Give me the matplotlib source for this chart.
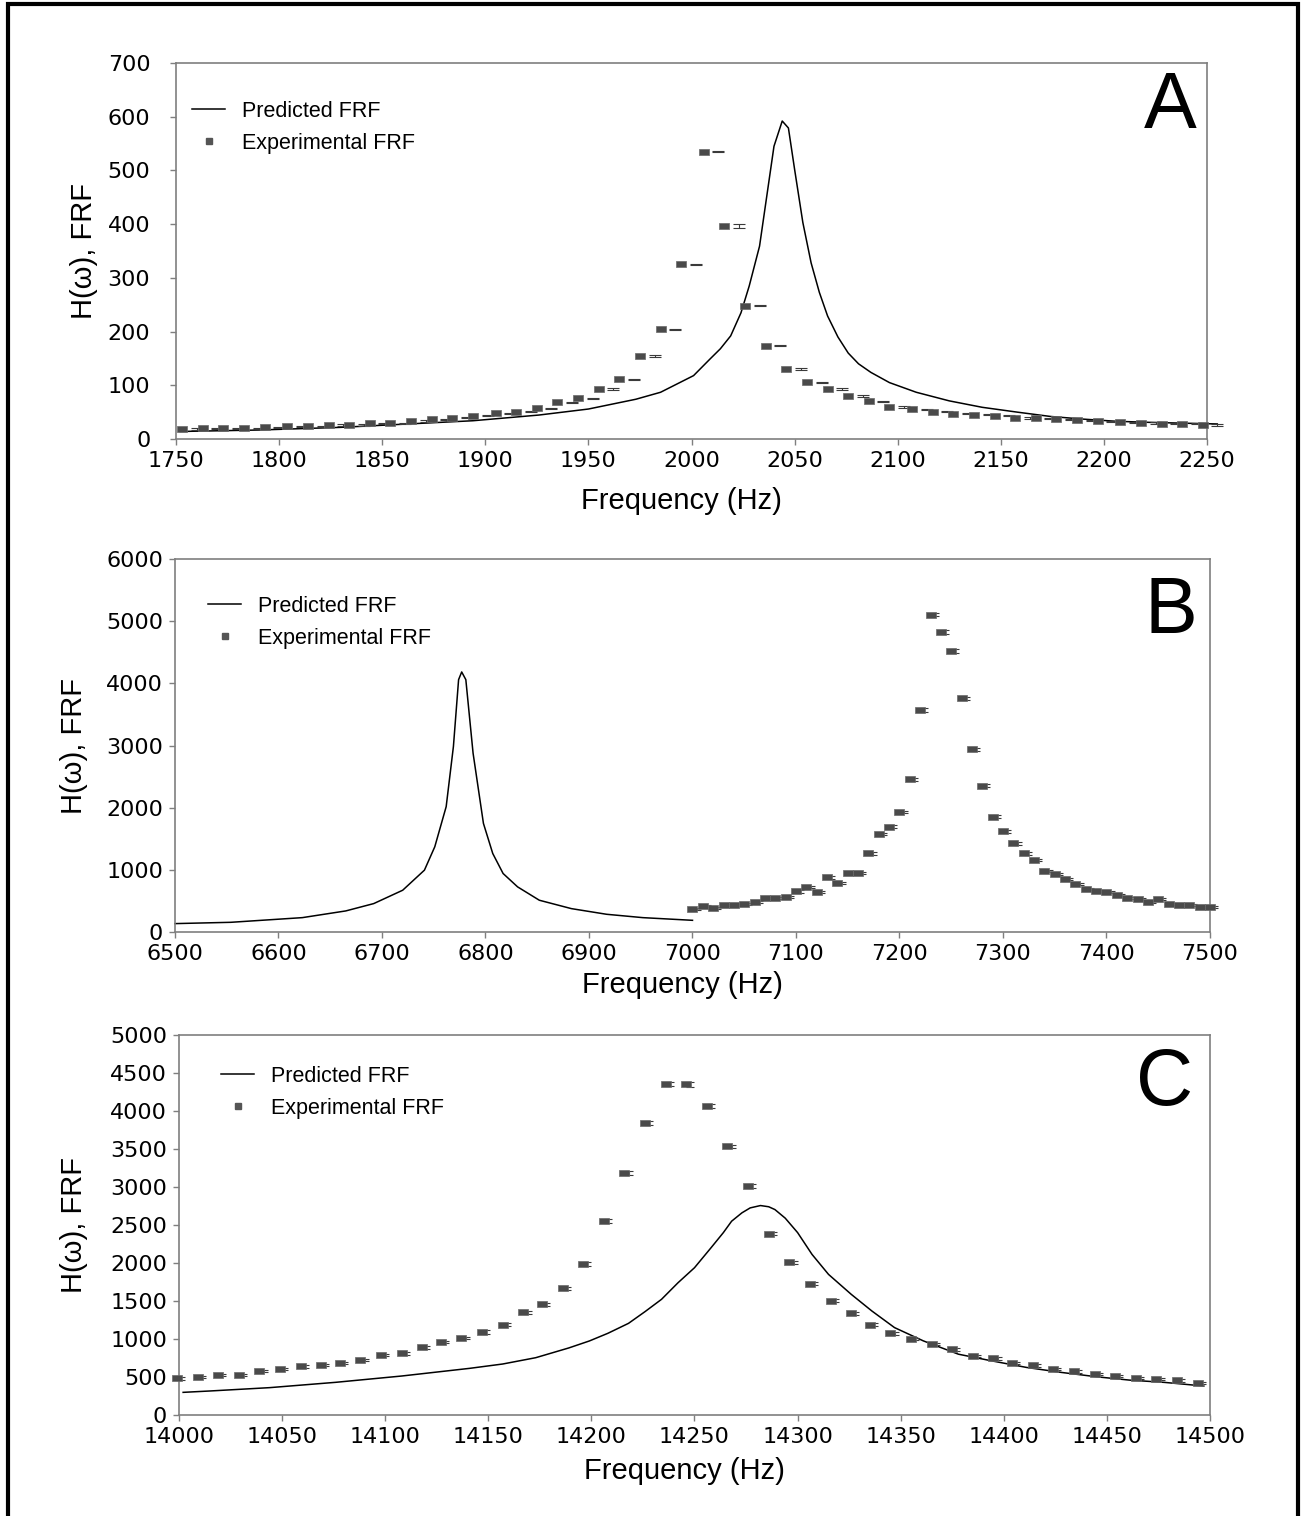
"""Predicted vs experimental FRF for three resonance modes (A, B, C)."""

import matplotlib
matplotlib.use("Agg")
import matplotlib.pyplot as plt
from matplotlib.lines import Line2D
from matplotlib.patches import Rectangle
from matplotlib.path import Path
from matplotlib.transforms import offset_copy

# ---------- Panel A data ----------
a_pred_hz = [1752, 1790, 1830, 1862, 1894, 1926, 1950, 1973, 1985, 2001,
             2009, 2014, 2019, 2024, 2028, 2033, 2036.5, 2040, 2044, 2047,
             2050, 2054, 2058, 2062, 2066, 2071, 2076, 2081, 2087, 2096,
             2109, 2125, 2141, 2158, 2174, 2190, 2206, 2222, 2238, 2255]
a_pred = [14, 16.7, 21.7, 27.9, 34, 44.6, 55.8, 74, 87, 118,
          149, 168, 192, 235, 285, 359, 452, 545, 592, 579,
          502, 403, 328, 273, 229, 190, 160, 140, 124, 105,
          87, 71, 59, 50, 42, 37, 33, 31, 29.5, 28]
a_exp_hz = [1753, 1763, 1773, 1783, 1793, 1804, 1814, 1824, 1834, 1844,
            1854, 1864, 1874, 1884, 1894, 1905, 1915, 1925, 1935, 1945,
            1955, 1965, 1975, 1985, 1995, 2006, 2016, 2026, 2036, 2046,
            2056, 2066, 2076, 2086, 2096, 2107, 2117, 2127, 2137, 2147,
            2157, 2167, 2177, 2187, 2197, 2208, 2218, 2228, 2238, 2248]
a_exp = [18.6, 19.8, 19.8, 19.8, 21.7, 23.5, 23.5, 26, 26, 29,
         29.7, 33.5, 37, 40, 43.4, 48, 51, 57, 68, 76,
         93, 111.5, 155, 204.5, 325, 535, 396.5, 248, 173.5, 130,
         105.3, 93, 79.5, 70, 60, 55, 51, 47, 45, 43,
         38.5, 39, 36.4, 34.7, 33, 31, 30.3, 28.5, 28.5, 26]
a_err = [1, 1, 1, 1, 1, 1, 1, 1, 1, 1,
         1, 1, 1, 1, 1, 1, 1, 1, 1.5, 1,
         1.5, 1, 2, 1, 1, 1, 3, 1, 1, 2,
         1, 2.5, 2, 1, 2, 1, 1, 1, 1, 1,
         2, 1, 1, 1, 1, 1, 2, 1, 1, 1]

# ---------- Panel B data ----------
b_pred_hz = [6500, 6554, 6623, 6665, 6692, 6720, 6741, 6751, 6762, 6769,
             6774, 6777, 6781, 6788, 6798, 6807, 6817, 6831, 6852, 6883,
             6917, 6952, 7000]
b_pred = [135, 156, 231, 339, 457, 672, 995, 1371, 2016, 2984,
          4059, 4183, 4059, 2876, 1747, 1263, 941, 726, 511, 376,
          285, 231, 188]
b_exp_hz = [7000, 7010, 7020, 7030, 7040, 7050, 7060, 7070, 7080, 7090,
            7100, 7110, 7120, 7130, 7140, 7150, 7160, 7170, 7180, 7190,
            7200, 7210, 7220, 7230, 7240, 7250, 7260, 7270, 7280, 7290,
            7300, 7310, 7320, 7330, 7340, 7350, 7360, 7370, 7380, 7390,
            7400, 7410, 7420, 7430, 7440, 7450, 7460, 7470, 7480, 7490,
            7500]
b_exp = [375, 413, 391, 429, 429, 450, 488, 547, 547, 563,
         654, 729, 638, 879, 782, 949, 949, 1265, 1576, 1693,
         1929, 2460, 3574, 5107, 4828, 4518, 3762, 2942, 2353, 1854,
         1618, 1426, 1265, 1152, 986, 932, 857, 766, 691, 654,
         638, 600, 547, 525, 488, 525, 450, 434, 434, 397,
         397]
b_err = [15, 15, 15, 15, 15, 15, 15, 15, 15, 15,
         20, 15, 15, 20, 15, 20, 20, 20, 20, 25,
         20, 25, 30, 30, 30, 30, 25, 25, 20, 20,
         20, 20, 20, 15, 15, 20, 15, 15, 15, 15,
         15, 15, 15, 15, 15, 15, 15, 15, 15, 15,
         15]

# ---------- Panel C data ----------
c_pred_hz = [14002, 14015, 14044, 14076, 14108, 14141, 14157, 14173, 14189, 14199,
             14208, 14218, 14226, 14234, 14242, 14250, 14258, 14264, 14268, 14273,
             14277, 14282, 14286, 14289, 14294, 14300, 14307, 14315, 14326, 14336,
             14347, 14361, 14378, 14394, 14411, 14428, 14445, 14461, 14478, 14497]
c_pred = [298, 316, 360, 430, 513, 614, 671, 754, 882, 974,
          1075, 1206, 1360, 1522, 1740, 1938, 2200, 2400, 2550, 2660,
          2725, 2756, 2740, 2703, 2590, 2400, 2113, 1850, 1588, 1369,
          1150, 975, 800, 713, 626, 560, 503, 459, 429, 381]
c_exp_hz = [13999, 14009, 14019, 14029, 14039, 14049, 14059, 14069, 14078, 14088,
            14098, 14108, 14118, 14127, 14137, 14147, 14157, 14167, 14176, 14186,
            14196, 14206, 14216, 14226, 14236, 14246, 14256, 14266, 14276, 14286,
            14296, 14306, 14316, 14326, 14335, 14345, 14355, 14365, 14375, 14385,
            14395, 14404, 14414, 14424, 14434, 14444, 14454, 14464, 14474, 14484,
            14494]
c_exp = [482, 500, 531, 531, 575, 605, 640, 662, 680, 724,
         785, 811, 890, 965, 1013, 1092, 1189, 1355, 1456, 1667,
         1987, 2553, 3184, 3842, 4355, 4350, 4068, 3535, 3018, 2388,
         2012, 1728, 1505, 1339, 1190, 1076, 997, 932, 862, 774,
         744, 682, 652, 608, 573, 542, 516, 490, 472, 455,
         424]
c_err = [15, 15, 15, 15, 15, 15, 15, 15, 15, 15,
         15, 15, 20, 15, 15, 20, 15, 20, 20, 20,
         20, 25, 25, 30, 30, 30, 25, 20, 25, 25,
         20, 20, 20, 20, 15, 20, 15, 15, 15, 15,
         15, 15, 15, 15, 15, 15, 15, 15, 15, 15,
         15]

# ---------- Styling ----------
W, H = 1306, 1516
axis_grey = "#7f7f7f"
marker_grey = "#4a4a4a"
tick_font = "DejaVu Sans"
label_font = ["Liberation Sans", "DejaVu Sans"]
legend_font = ["Liberation Sans", "DejaVu Sans"]

# wide, flat rectangle marker like the original plotting package
rect_marker = Path([(-1.5, -1), (1.5, -1), (1.5, 1), (-1.5, 1), (-1.5, -1)],
                   [Path.MOVETO, Path.LINETO, Path.LINETO, Path.LINETO, Path.CLOSEPOLY])

panels = [
    # pixel box (left, top, right, bottom), data, axis ranges, layout tweaks
    dict(box=(176, 63, 1207, 439), letter="A",
         pred=(a_pred_hz, a_pred), exp=(a_exp_hz, a_exp, a_err),
         xlim=(1750, 2250), xstep=50, ylim=(0, 700), ystep=100,
         ypad=14, ylab_x=98, xlab_top=487, letter_xy=(1197, 128),
         legend_xy=(192, 101), err_dx=10.5, capsize=4.3),
    dict(box=(175, 559, 1210, 932), letter="B",
         pred=(b_pred_hz, b_pred), exp=(b_exp_hz, b_exp, b_err),
         xlim=(6500, 7500), xstep=100, ylim=(0, 6000), ystep=1000,
         ypad=4, ylab_x=88, xlab_top=971, letter_xy=(1197, 633),
         legend_xy=(208, 596), err_dx=3, capsize=3),
    dict(box=(179, 1035, 1210, 1415), letter="C",
         pred=(c_pred_hz, c_pred), exp=(c_exp_hz, c_exp, c_err),
         xlim=(14000, 14500), xstep=50, ylim=(0, 5000), ystep=500,
         ypad=4, ylab_x=88, xlab_top=1457, letter_xy=(1193, 1105),
         legend_xy=(221, 1066), err_dx=3, capsize=3),
]

fig = plt.figure(figsize=(W / 100, H / 100), dpi=100)
fig.patch.set_facecolor("white")

for p in panels:
    left, top, right, bottom = p["box"]
    ax = fig.add_axes([left / W, 1 - bottom / H, (right - left) / W, (bottom - top) / H])
    px_w, px_h = right - left, bottom - top

    x0, x1 = p["xlim"]
    y0, y1 = p["ylim"]
    ax.set_xlim(x0, x1)
    ax.set_ylim(y0, y1)
    ax.set_xticks(range(x0, x1 + 1, p["xstep"]))
    ax.set_yticks(range(y0, y1 + 1, p["ystep"]))

    for s in ax.spines.values():
        s.set_color(axis_grey)
        s.set_linewidth(1.2)
    ax.tick_params(axis="both", direction="out", length=4.5, width=1.0,
                   color=axis_grey, labelsize=16, labelcolor="black")
    ax.tick_params(axis="x", pad=4)
    ax.tick_params(axis="y", pad=p["ypad"])
    for lab in ax.get_xticklabels() + ax.get_yticklabels():
        lab.set_family(tick_font)

    # predicted curve
    hz, val = p["pred"]
    ax.plot(hz, val, color="black", lw=1.1, clip_on=False, zorder=2)

    # experimental points with offset error bars
    hz, val, err = p["exp"]
    trans = offset_copy(ax.transData, fig=fig, x=p["err_dx"], y=0, units="points")
    ax.errorbar(hz, val, yerr=err, fmt="none", ecolor="#3a3a3a", elinewidth=0.8,
                capsize=p["capsize"], capthick=0.8, transform=trans,
                clip_on=False, zorder=3)
    ax.plot(hz, val, linestyle="none", marker=rect_marker, markersize=6.8,
            color=marker_grey, markeredgecolor="#6a6a6a", markeredgewidth=0.5,
            clip_on=False, zorder=4)

    ax.set_xlabel("Frequency (Hz)", fontsize=21, family=label_font)
    ax.xaxis.set_label_coords(0.49, (bottom - p["xlab_top"]) / px_h)
    ax.set_ylabel("H(ω), FRF", fontsize=21, family=label_font)
    ax.yaxis.set_label_coords((p["ylab_x"] - left) / px_w, 0.5)

    lx, ly = p["letter_xy"]
    ax.text((lx - left) / px_w, (bottom - ly) / px_h, p["letter"],
            transform=ax.transAxes, ha="right", va="baseline",
            fontsize=57, family=label_font)

    handles = [
        Line2D([], [], color="black", lw=1.1),
        Line2D([], [], linestyle="none", marker="s", markersize=5,
               color="#555555"),
    ]
    gx, gy = p["legend_xy"]
    ax.legend(handles, ["Predicted FRF", "Experimental FRF"],
              loc="upper left",
              bbox_to_anchor=((gx - left) / px_w, (bottom - gy) / px_h),
              frameon=False, borderpad=0, borderaxespad=0,
              handlelength=1.55, handletextpad=0.75, labelspacing=0.5,
              prop={"family": legend_font, "size": 15.5})

# outer frame round the whole figure
fig.add_artist(Rectangle((8 / W, -0.05), 1290 / W, 1 - 4 / H + 0.05,
                         transform=fig.transFigure, fill=False,
                         linewidth=3, edgecolor="black"))

fig.savefig("out.png", dpi=100, facecolor="white")
